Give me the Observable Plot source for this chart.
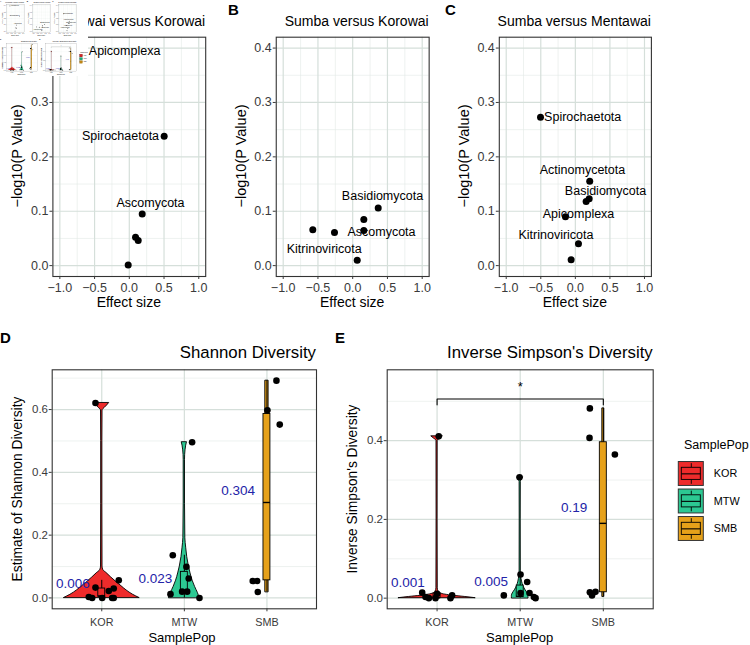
<!DOCTYPE html>
<html><head><meta charset="utf-8">
<script src="https://cdn.jsdelivr.net/npm/d3@7"></script>
<script src="https://cdn.jsdelivr.net/npm/@observablehq/plot@0.6"></script>
<style>
body{margin:0;background:#fff;}
.root{position:relative;width:750px;height:645px;background:#fff;overflow:hidden;font-family:"Liberation Sans",Arial,Helvetica,sans-serif;}
.lbl{position:absolute;white-space:nowrap;line-height:1;color:#000;}
</style></head><body><div class="root" id="root"></div>
<script>
// ---------- DATA ----------
const volcanoTitles = ["Mentawai versus Korowai", "Sumba versus Korowai", "Sumba versus Mentawai"];
const effTicks = [-1, -0.5, 0, 0.5, 1];
const effMinor = [-0.75, -0.25, 0.25, 0.75];
const lpTicks = [0, 0.1, 0.2, 0.3, 0.4];
const lpMinor = [0.05, 0.15, 0.25, 0.35];

const aEffect = [-0.645, 0.502, 0.186, 0.09, 0.128, -0.016];
const aLogP   = [0.395, 0.238, 0.095, 0.052, 0.046, 0.001];
const aLabels = ["Apicomplexa", "Spirochaetota", "Ascomycota"];
const aLabelEffect = [-0.068, -0.127, 0.305];
const aLabelLogP   = [0.395, 0.238, 0.115];

const bEffect = [-0.574, -0.262, 0.160, 0.160, 0.367, 0.065];
const bLogP   = [0.066, 0.061, 0.085, 0.0645, 0.106, 0.010];
const bLabels = ["Basidiomycota", "Ascomycota", "Kitrinoviricota"];
const bLabelEffect = [0.429, 0.414, -0.41];
const bLabelLogP   = [0.128, 0.061, 0.031];

const cEffect = [-0.504, 0.208, 0.200, 0.156, -0.143, 0.045, -0.061];
const cLogP   = [0.273, 0.155, 0.123, 0.118, 0.090, 0.040, 0.011];
const cLabels = ["Spirochaetota", "Actinomycetota", "Basidiomycota", "Apicomplexa", "Kitrinoviricota"];
const cLabelEffect = [0.106, 0.103, 0.436, 0.046, -0.28];
const cLabelLogP   = [0.273, 0.176, 0.138, 0.095, 0.057];

const groups = ["KOR", "MTW", "SMB"];
const groupColors = ["#EE2B2B", "#2CC892", "#E6A11A"];

// Shannon (D)
const dTicks = [0, 0.2, 0.4, 0.6];
const dMinor = [0.1, 0.3, 0.5, 0.7];
const dKorVals = [0.621, 0.003, 0.0, 0.033, 0.0, 0.022, 0.03, 0.0, 0.0, 0.056];
const dKorJit  = [-0.076, -0.157, -0.116, -0.076, 0.005, 0.085, 0.145, 0.126, 0.145, 0.206];
const dMtwVals = [0.012, 0.136, 0.02, 0.02, 0.099, 0.062, 0.496, 0.0];
const dMtwJit  = [-0.168, -0.14, -0.027, 0.034, 0.025, 0.053, 0.094, 0.183];
const dSmbVals = [0.054, 0.054, 0.019, 0.692, 0.552, 0.598];
const dSmbJit  = [-0.172, -0.119, -0.111, 0.115, 0.155, 0.006];
const dKorViolinY = [0, 0.01, 0.024, 0.037, 0.05, 0.065, 0.08, 0.088, 0.1, 0.3, 0.5, 0.597, 0.605, 0.613, 0.621];
const dKorViolinW = [0.455, 0.38, 0.30, 0.24, 0.18, 0.115, 0.055, 0.02, 0.009, 0.007, 0.007, 0.009, 0.035, 0.065, 0.09];
const dMtwViolinY = [0, 0.015, 0.035, 0.055, 0.078, 0.1, 0.13, 0.16, 0.19, 0.3, 0.44, 0.47, 0.485, 0.496];
const dMtwViolinW = [0.185, 0.165, 0.13, 0.1, 0.075, 0.055, 0.035, 0.022, 0.012, 0.008, 0.008, 0.014, 0.022, 0.032];
const dSmbViolinY = [0.019, 0.692];
const dSmbViolinW = [0.02, 0.02];
const dBoxLow    = [0.0, 0.0, 0.019];
const dBoxQ1     = [0.004, 0.019, 0.056];
const dBoxMedian = [0.006, 0.023, 0.304];
const dBoxQ3     = [0.03, 0.083, 0.586];
const dBoxHigh   = [0.056, 0.136, 0.692];
const dMedianLabels = ["0.006", "0.023", "0.304"];
const dMedianLabelY = [0.044, 0.060, 0.342];

// Inverse Simpson (E)
const eTicks = [0, 0.2, 0.4];
const eMinor = [0.1, 0.3, 0.5];
const eKorVals = [0.014, 0.003, 0.0, 0.0, 0.011, 0.0, 0.007, 0.411];
const eKorJit  = [-0.179, -0.139, -0.099, -0.019, 0.001, 0.161, 0.181, 0.02];
const eMtwVals = [0.007, 0.307, 0.06, 0.041, 0.013, 0.003, 0.0, 0.013];
const eMtwJit  = [-0.197, -0.008, 0.004, 0.084, 0.112, 0.164, 0.185, 0.004];
const eSmbVals = [0.482, 0.407, 0.365, 0.015, 0.007, 0.016];
const eSmbJit  = [-0.162, -0.166, 0.139, -0.162, -0.136, -0.094];
const eKorViolinY = [0, 0.003, 0.006, 0.009, 0.012, 0.016, 0.025, 0.2, 0.4, 0.405, 0.411];
const eKorViolinW = [0.46, 0.34, 0.2, 0.1, 0.045, 0.02, 0.008, 0.006, 0.007, 0.035, 0.07];
const eMtwViolinY = [0, 0.006, 0.012, 0.02, 0.03, 0.042, 0.055, 0.07, 0.2, 0.295, 0.302, 0.307];
const eMtwViolinW = [0.1, 0.1, 0.09, 0.065, 0.04, 0.022, 0.012, 0.007, 0.006, 0.007, 0.02, 0.035];
const eSmbViolinY = [0.004, 0.482];
const eSmbViolinW = [0.012, 0.012];
const eBoxLow    = [0.0, 0.0, 0.004];
const eBoxQ1     = [0.0, 0.003, 0.015];
const eBoxMedian = [0.001, 0.005, 0.19];
const eBoxQ3     = [0.012, 0.032, 0.396];
const eBoxHigh   = [0.014, 0.06, 0.482];
const eMedianLabels = ["0.001", "0.005", "0.19"];
const eMedianLabelY = [0.040, 0.042, 0.229];
const eBracketGroups = ["KOR", "SMB"];
const eBracketY = 0.506;
const eBracketTip = 0.491;
const eStarY = 0.537;
const eStar = "*";

// ---------- DRAWING ----------
const root = document.getElementById("root");
const FONT = "Liberation Sans, Arial, Helvetica, sans-serif";
const majorCol = "#d5dfda", minorCol = "#e2e9e6";

function place(svg) {
  svg.style.position = "absolute"; svg.style.left = "0px"; svg.style.top = "0px";
  root.appendChild(svg);
}
function addText(txt, x, y, o = {}) {
  const d = document.createElement("div");
  d.className = "lbl";
  d.textContent = txt;
  d.style.left = x + "px"; d.style.top = y + "px";
  d.style.fontSize = (o.size || 14) + "px";
  if (o.bold) d.style.fontWeight = "bold";
  const ax = o.anchor === "end" ? "-100%" : o.anchor === "start" ? "0%" : "-50%";
  d.style.transform = `translate(${ax}, -50%)` + (o.rotate ? " rotate(-90deg)" : "");
  root.appendChild(d);
}
const baseStyle = {background: "transparent", fontFamily: FONT, fontSize: "12px", color: "#000", overflow: "visible"};

function volcano(f, eff, lp, labs, lx, ly) {
  return Plot.plot({
    width: 750, height: 645,
    marginLeft: f.l, marginRight: 750 - f.r, marginTop: f.t, marginBottom: 645 - f.b,
    x: {domain: [-1.1, 1.1]}, y: {domain: [-0.02, 0.42]},
    style: baseStyle,
    marks: [
      Plot.gridX({ticks: effMinor, stroke: minorCol, strokeOpacity: 1, strokeWidth: 0.6}),
      Plot.gridY({ticks: lpMinor, stroke: minorCol, strokeOpacity: 1, strokeWidth: 0.6}),
      Plot.gridX({ticks: effTicks, stroke: majorCol, strokeOpacity: 1, strokeWidth: 1.2}),
      Plot.gridY({ticks: lpTicks, stroke: majorCol, strokeOpacity: 1, strokeWidth: 1.2}),
      Plot.frame({stroke: "#333", strokeWidth: 1.1}),
      Plot.axisX({ticks: effTicks, tickFormat: ".1f", tickSize: 3, tickPadding: 3.5, fontSize: 12.5, color: "#3a3a3a", label: null}),
      Plot.axisY({ticks: lpTicks, tickFormat: ".1f", tickSize: 3, tickPadding: 1.5, fontSize: 12.5, color: "#3a3a3a", label: null}),
      Plot.text(labs, {x: (d, i) => lx[i], y: (d, i) => ly[i], text: d => d, fontSize: 12.5, fill: "#000"}),
      Plot.dot(eff, {x: d => d, y: (d, i) => lp[i], r: 3.5, fill: "#000", stroke: null})
    ]
  });
}

place(volcano({l: 52.4, r: 205.2, t: 36.7, b: 276}, aEffect, aLogP, aLabels, aLabelEffect, aLabelLogP));
place(volcano({l: 275.75, r: 428.65, t: 36.7, b: 276}, bEffect, bLogP, bLabels, bLabelEffect, bLabelLogP));
place(volcano({l: 498.8, r: 650.9, t: 36.7, b: 276}, cEffect, cLogP, cLabels, cLabelEffect, cLabelLogP));

function violinPanel(f, yDom, ticks, minor, vY, vW, vals, jit, low, q1, med, q3, high, medLabels, medLabelY, extra = []) {
  const bw = 0.042;
  const marks = [
    Plot.gridY({ticks: minor, stroke: minorCol, strokeOpacity: 1, strokeWidth: 0.6}),
    Plot.gridX({ticks: [1, 2, 3], stroke: majorCol, strokeOpacity: 1, strokeWidth: 1.2}),
    Plot.gridY({ticks: ticks, stroke: majorCol, strokeOpacity: 1, strokeWidth: 1.2}),
    Plot.frame({stroke: "#333", strokeWidth: 1.1}),
    Plot.axisX({ticks: [1, 2, 3], tickFormat: i => groups[i - 1], tickSize: 3, tickPadding: 7, fontSize: 10.8, color: "#3a3a3a", label: null}),
    Plot.axisY({ticks: ticks, tickFormat: ".1f", tickSize: 3, tickPadding: 1.2, fontSize: 11.5, color: "#3a3a3a", label: null})
  ];
  groups.forEach((g, k) => {
    marks.push(Plot.areaX(vY[k], {
      y: d => d, x1: (d, i) => k + 1 - vW[k][i], x2: (d, i) => k + 1 + vW[k][i],
      fill: groupColors[k], stroke: "#000", strokeWidth: 0.9, curve: "monotone-y"
    }));
  });
  marks.push(
    Plot.ruleX(groups, {x: (d, k) => k + 1, y1: (d, k) => low[k], y2: (d, k) => q1[k], stroke: "#000", strokeWidth: 1}),
    Plot.ruleX(groups, {x: (d, k) => k + 1, y1: (d, k) => q3[k], y2: (d, k) => high[k], stroke: "#000", strokeWidth: 1}),
    Plot.rect(groups, {x1: (d, k) => k + 1 - bw, x2: (d, k) => k + 1 + bw, y1: (d, k) => q1[k], y2: (d, k) => q3[k],
      fill: (d, k) => groupColors[k], stroke: "#000", strokeWidth: 0.9}),
    Plot.ruleY(groups, {y: (d, k) => med[k], x1: (d, k) => k + 1 - bw, x2: (d, k) => k + 1 + bw, stroke: "#000", strokeWidth: 1.4})
  );
  groups.forEach((g, k) => {
    marks.push(Plot.dot(vals[k], {x: (d, i) => k + 1 + jit[k][i], y: d => d, r: 3.3, fill: "#000", stroke: null}));
  });
  marks.push(Plot.text(medLabels, {x: (d, k) => k + 1 - 0.35, y: (d, k) => medLabelY[k], text: d => d, fill: "#2323a8", fontSize: 13.5}));
  marks.push(...extra);
  return Plot.plot({
    width: 750, height: 645,
    marginLeft: f.l, marginRight: 750 - f.r, marginTop: f.t, marginBottom: 645 - f.b,
    x: {domain: [0.4, 3.6]}, y: {domain: yDom},
    style: baseStyle,
    marks
  });
}

place(violinPanel({l: 51.7, r: 316, t: 369.3, b: 608.3}, [-0.0346, 0.7266], dTicks, dMinor,
  [dKorViolinY, dMtwViolinY, dSmbViolinY], [dKorViolinW, dMtwViolinW, dSmbViolinW],
  [dKorVals, dMtwVals, dSmbVals], [dKorJit, dMtwJit, dSmbJit],
  dBoxLow, dBoxQ1, dBoxMedian, dBoxQ3, dBoxHigh, dMedianLabels, dMedianLabelY));

const bx1 = groups.indexOf(eBracketGroups[0]) + 1, bx2 = groups.indexOf(eBracketGroups[1]) + 1;
const bracketX = [bx1, bx1, bx2, bx2];
const bracketY = [eBracketTip, eBracketY, eBracketY, eBracketTip];
place(violinPanel({l: 386.7, r: 652.7, t: 369.3, b: 608.3}, [-0.027, 0.58], eTicks, eMinor,
  [eKorViolinY, eMtwViolinY, eSmbViolinY], [eKorViolinW, eMtwViolinW, eSmbViolinW],
  [eKorVals, eMtwVals, eSmbVals], [eKorJit, eMtwJit, eSmbJit],
  eBoxLow, eBoxQ1, eBoxMedian, eBoxQ3, eBoxHigh, eMedianLabels, eMedianLabelY,
  [
    Plot.line(bracketX, {x: d => d, y: (d, i) => bracketY[i], stroke: "#000", strokeWidth: 1.1}),
    Plot.text([eStar], {x: (bx1 + bx2) / 2, y: eStarY, text: d => d, fontSize: 13, fill: "#000"})
  ]));

// legend (boxplot-style keys)
place(Plot.plot({
  width: 750, height: 645,
  marginLeft: 678.3, marginRight: 46.7, marginTop: 460.7, marginBottom: 101.8,
  x: {domain: [0, 1], axis: null}, y: {domain: [0, 3], reverse: true, axis: null},
  style: baseStyle,
  marks: [
    Plot.rect(groups, {x1: 0, x2: 1, y1: (d, i) => i + 0.03, y2: (d, i) => i + 0.9, fill: (d, i) => groupColors[i], stroke: "#333", strokeWidth: 1}),
    Plot.ruleX(groups, {x: 0.5, y1: (d, i) => i + 0.09, y2: (d, i) => i + 0.24, stroke: "#000", strokeWidth: 0.9}),
    Plot.ruleX(groups, {x: 0.5, y1: (d, i) => i + 0.68, y2: (d, i) => i + 0.84, stroke: "#000", strokeWidth: 0.9}),
    Plot.rect(groups, {x1: 0.12, x2: 0.88, y1: (d, i) => i + 0.24, y2: (d, i) => i + 0.68, fill: (d, i) => groupColors[i], stroke: "#000", strokeWidth: 0.9}),
    Plot.ruleY(groups, {y: (d, i) => i + 0.46, x1: 0.12, x2: 0.88, stroke: "#000", strokeWidth: 1.1}),
    Plot.text(groups, {x: 1, y: (d, i) => i + 0.465, text: d => d, dx: 10, textAnchor: "start", fontSize: 10.8, fill: "#000"})
  ]
}));

// text
addText(volcanoTitles[0], 205.2, 21, {anchor: "end", size: 14});
addText(volcanoTitles[1], 428.65, 21, {anchor: "end", size: 14});
addText(volcanoTitles[2], 650.9, 21, {anchor: "end", size: 14});
addText("A", 0, 9, {anchor: "start", size: 15, bold: true});
addText("B", 228, 9, {anchor: "start", size: 15, bold: true});
addText("C", 445, 9, {anchor: "start", size: 15, bold: true});
addText("D", 0, 337, {anchor: "start", size: 15, bold: true});
addText("E", 335, 337, {anchor: "start", size: 15, bold: true});
addText("−log10(P Value)", 17, 156.3, {rotate: true, size: 14.5});
addText("−log10(P Value)", 240.5, 156.3, {rotate: true, size: 14.5});
addText("−log10(P Value)", 463.5, 156.3, {rotate: true, size: 14.5});
addText("Effect size", 128.8, 302, {size: 14});
addText("Effect size", 352.2, 302, {size: 14});
addText("Effect size", 574.9, 302, {size: 14});
addText("Shannon Diversity", 316, 353.3, {anchor: "end", size: 16.8});
addText("Inverse Simpson's Diversity", 652.7, 353.3, {anchor: "end", size: 16.8});
addText("Estimate of Shannon Diversity", 18.3, 488.8, {rotate: true, size: 13.8});
addText("Inverse Simpson's Diversity", 352.5, 488.8, {rotate: true, size: 13.8});
addText("SamplePop", 182, 636.7, {size: 13});
addText("SamplePop", 519.7, 636.7, {size: 13});
addText("SamplePop", 684, 445, {anchor: "start", size: 12.5});

// thumbnail overlay in the top-left corner (miniature of the whole figure)
const thumb = document.createElement("div");
thumb.style.cssText = "position:absolute;left:0;top:0;width:88px;height:76px;overflow:hidden;background:#fff;z-index:10;";
const mini = root.cloneNode(true);
mini.removeAttribute("id");
mini.style.cssText = "position:absolute;left:0;top:0;width:750px;height:645px;transform:scale(0.1173);transform-origin:0 0;background:#fff;";
thumb.appendChild(mini);
root.appendChild(thumb);
</script></body></html>
